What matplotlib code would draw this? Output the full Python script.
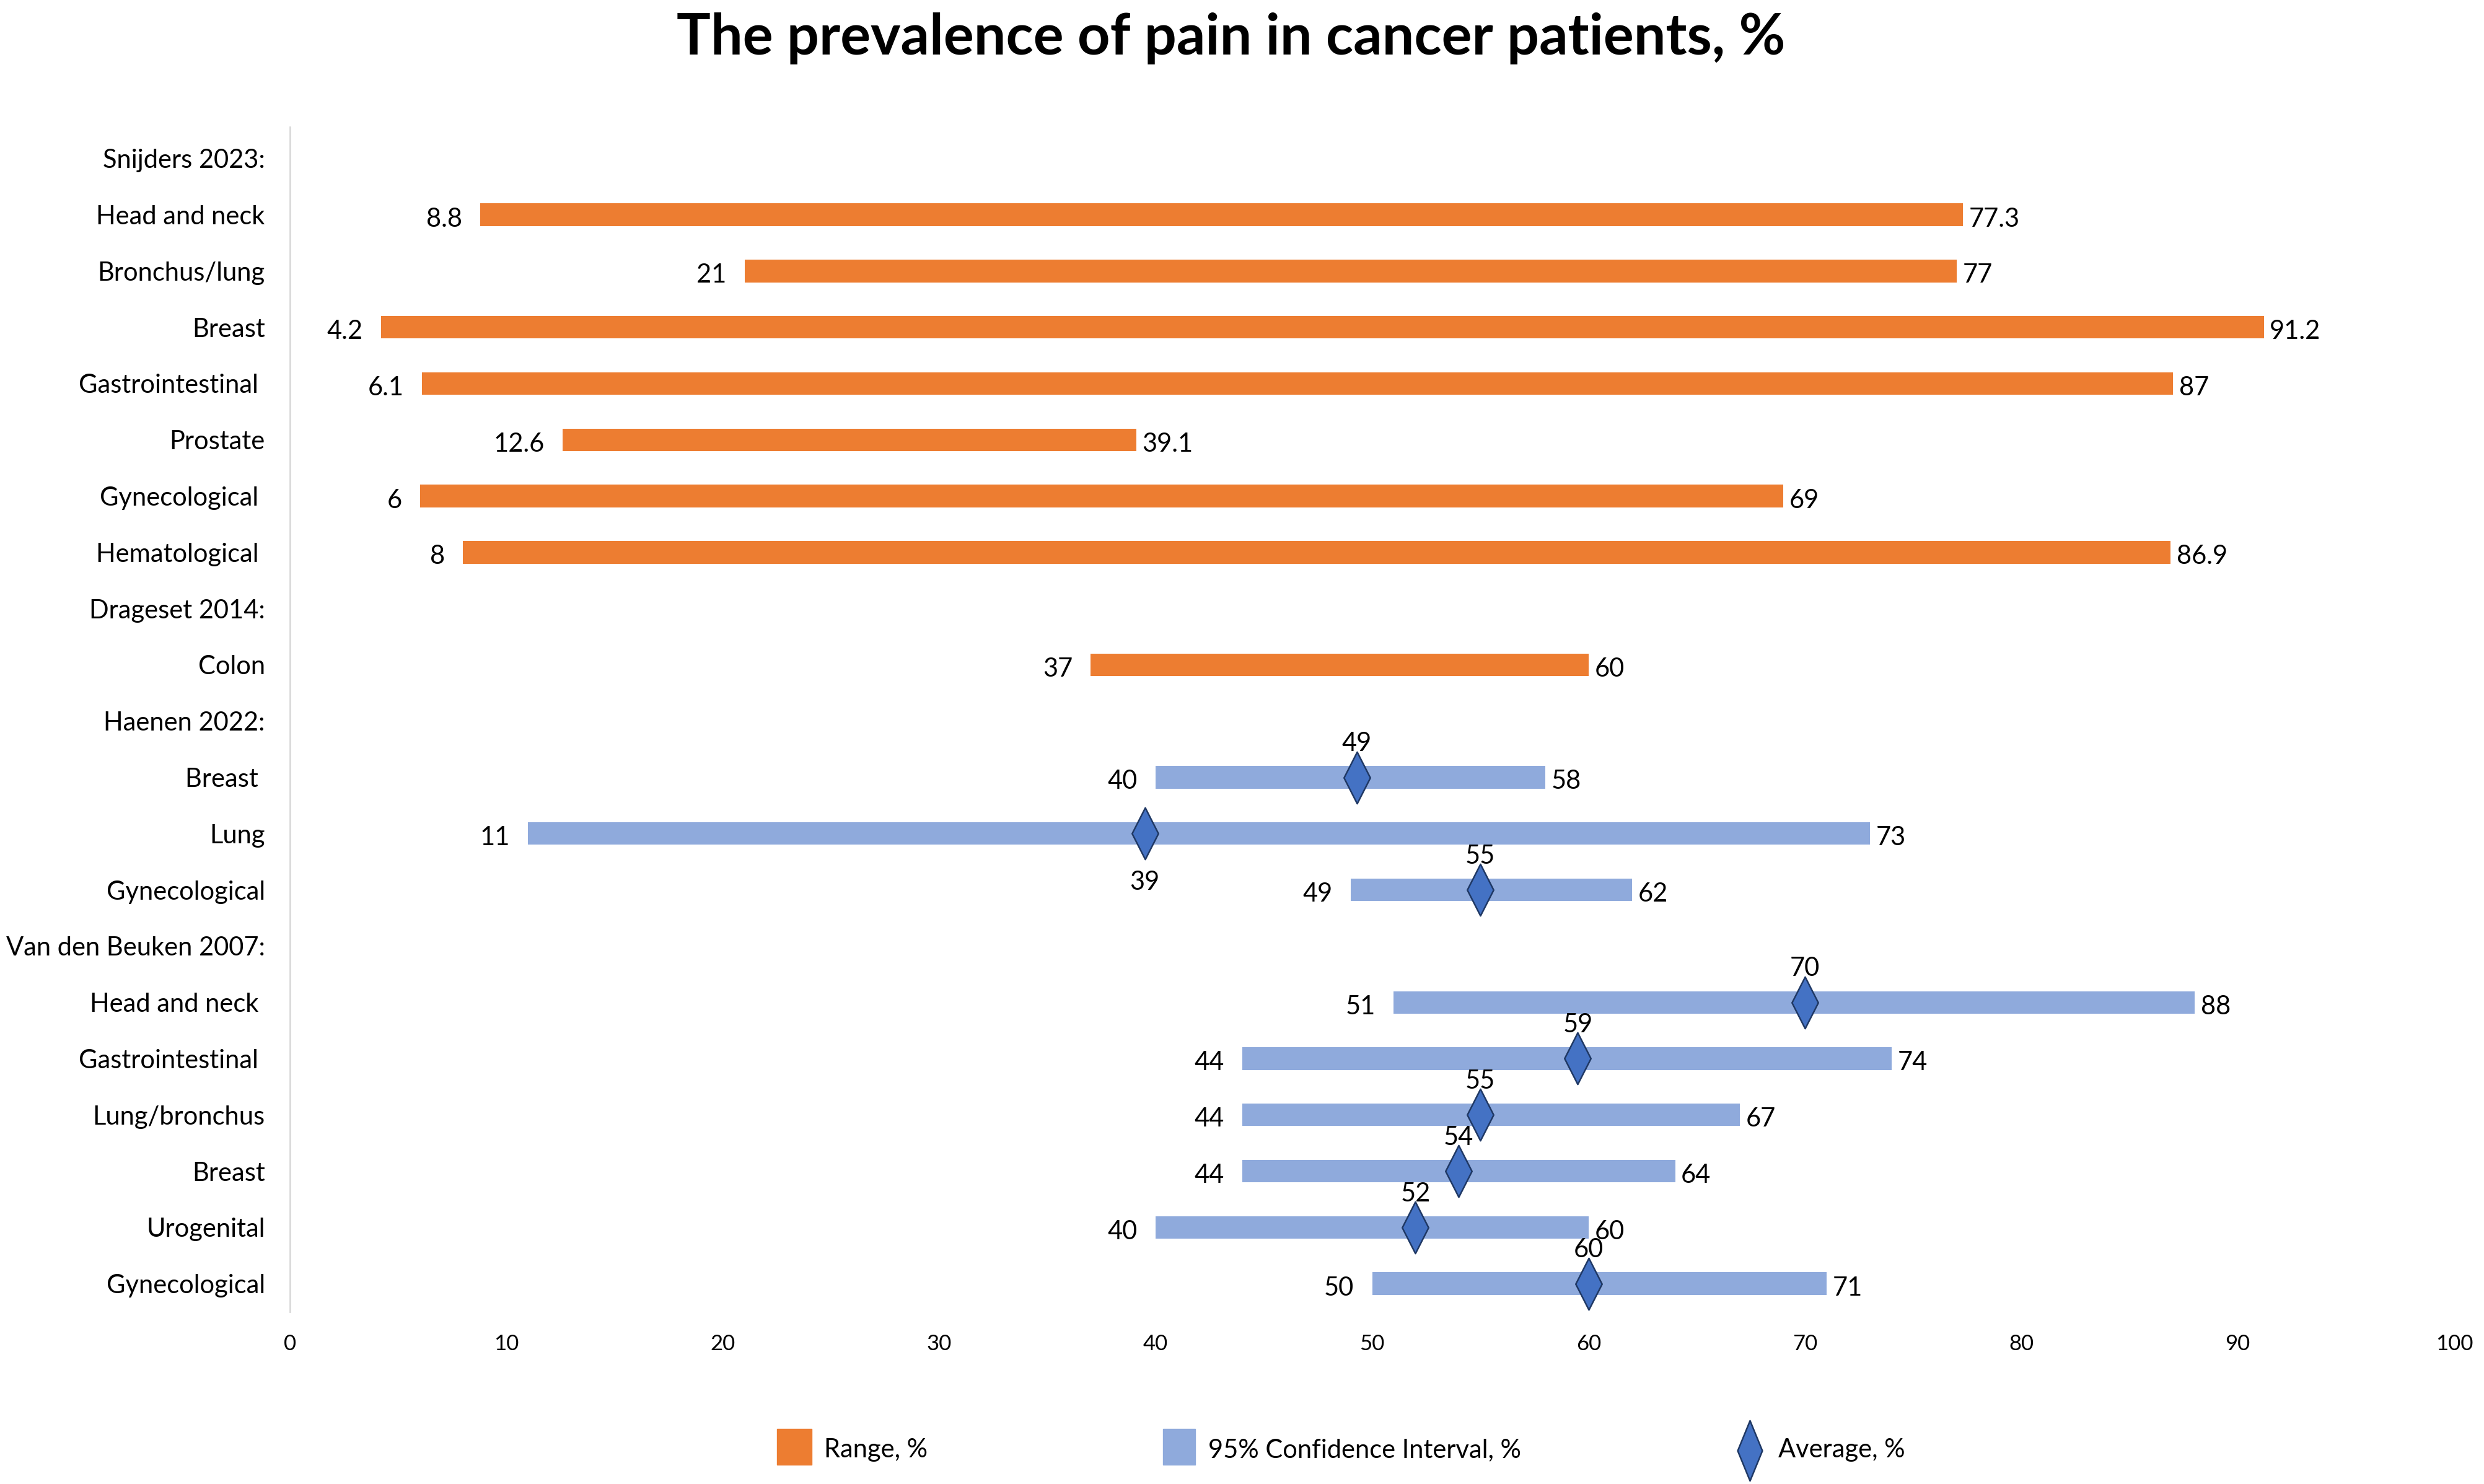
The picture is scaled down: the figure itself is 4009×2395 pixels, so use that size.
import numpy as np
import matplotlib
matplotlib.use("Agg")
import matplotlib.pyplot as plt
from matplotlib.path import Path
from matplotlib.patches import Rectangle
from matplotlib.lines import Line2D

plt.rcParams["font.family"] = ["Lato", "DejaVu Sans"]

# -------------------------
# Data
# -------------------------
nan = np.nan

row_labels = [
    "Snijders 2023:", "Head and neck", "Bronchus/lung", "Breast",
    "Gastrointestinal ", "Prostate", "Gynecological ", "Hematological ",
    "Drageset 2014:", "Colon",
    "Haenen 2022:", "Breast ", "Lung", "Gynecological",
    "Van den Beuken 2007:", "Head and neck ", "Gastrointestinal ",
    "Lung/bronchus", "Breast", "Urogenital", "Gynecological",
]

# Range, % (orange)
range_low = [nan, 8.8, 21, 4.2, 6.1, 12.6, 6, 8, nan, 37,
             nan, nan, nan, nan, nan, nan, nan, nan, nan, nan, nan]
range_high = [nan, 77.3, 77, 91.2, 87, 39.1, 69, 86.9, nan, 60,
              nan, nan, nan, nan, nan, nan, nan, nan, nan, nan, nan]

# 95% confidence interval, % (blue)
ci_low = [nan] * 11 + [40, 11, 49, nan, 51, 44, 44, 44, 40, 50]
ci_high = [nan] * 11 + [58, 73, 62, nan, 88, 74, 67, 64, 60, 71]

# Average, %
avg_value = [nan] * 11 + [49.3, 39.5, 55, nan, 70, 59.5, 55, 54, 52, 60]
avg_label = [""] * 11 + ["49", "39", "55", "", "70", "59", "55", "54", "52", "60"]

x_ticks = [0, 10, 20, 30, 40, 50, 60, 70, 80, 90, 100]

# -------------------------
# Styles
# -------------------------
orange = "#ED7D31"
blue = "#8FAADC"
dia_face = "#4472C4"
dia_edge = "#1F3864"


def diamond_path(half_w):
    return Path([(0, 1), (half_w, 0), (0, -1), (-half_w, 0), (0, 1)],
                [Path.MOVETO, Path.LINETO, Path.LINETO, Path.LINETO, Path.CLOSEPOLY])


diamond = diamond_path(0.51)
diamond_leg = diamond_path(0.41)

W, H = 4009, 2395
fig = plt.figure(figsize=(W / 100, H / 100), dpi=100)
ax = fig.add_axes([468 / W, 1 - 2117 / H, 3493 / W, (2117 - 205) / H])

y = np.arange(len(row_labels))
bar_h = 0.40
lab_fs = 30


def start_label(v, yy):
    ax.annotate(f"{v:g}", (v, yy), xytext=(-21, -5), textcoords="offset points",
                ha="right", va="center", fontsize=lab_fs)


def end_label(v, yy):
    ax.annotate(f"{v:g}", (v, yy), xytext=(7, -5), textcoords="offset points",
                ha="left", va="center", fontsize=lab_fs)


# Range bars
rl = np.array(range_low, dtype=float)
rh = np.array(range_high, dtype=float)
m = ~np.isnan(rl)
ax.barh(y[m], rh[m] - rl[m], left=rl[m], height=bar_h, color=orange)
for yy, lo, hi in zip(y[m], rl[m], rh[m]):
    start_label(lo, yy)
    end_label(hi, yy)

# Confidence interval bars
cl = np.array(ci_low, dtype=float)
ch = np.array(ci_high, dtype=float)
m = ~np.isnan(cl)
ax.barh(y[m], ch[m] - cl[m], left=cl[m], height=bar_h, color=blue)
for yy, lo, hi in zip(y[m], cl[m], ch[m]):
    start_label(lo, yy)
    end_label(hi, yy)

# Averages
av = np.array(avg_value, dtype=float)
m = ~np.isnan(av)
ax.plot(av[m], y[m], linestyle="none", marker=diamond, markersize=60,
        markerfacecolor=dia_face, markeredgecolor=dia_edge, markeredgewidth=1.8)
for yy, v, s in zip(y[m], av[m], np.array(avg_label)[m]):
    off = -57 if s == "39" else 39
    ax.annotate(s, (v, yy), xytext=(0, off), textcoords="offset points",
                ha="center", va="center", fontsize=lab_fs)

ax.set_xlim(0, 100)
ax.set_ylim(20.5, -0.56)
ax.set_xticks(x_ticks)
ax.set_yticks(y)
ax.set_yticklabels(row_labels, fontsize=30)
ax.tick_params(axis="x", length=0, labelsize=25, pad=26)
ax.tick_params(axis="y", length=0, pad=29)
for s in ["top", "right", "bottom"]:
    ax.spines[s].set_visible(False)
ax.spines["left"].set_color("#D9D9D9")
ax.spines["left"].set_linewidth(2)

fig.text(1987 / W, 1 - 62 / H, "The prevalence of pain in cancer patients, %",
         ha="center", va="center", fontsize=66, fontweight="bold")

# Legend
leg_y = 1 - 2340 / H
fig.patches.append(Rectangle((1254 / W, 1 - 2364 / H), 56 / W, 58 / H,
                             transform=fig.transFigure, color=orange))
fig.text(1330 / W, leg_y, "Range, %", ha="left", va="center", fontsize=30)
fig.patches.append(Rectangle((1877 / W, 1 - 2364 / H), 52 / W, 58 / H,
                             transform=fig.transFigure, color=blue))
fig.text(1950 / W, leg_y, "95% Confidence Interval, %", ha="left", va="center", fontsize=30)
fig.lines.append(Line2D([2824 / W], [1 - 2341 / H], transform=fig.transFigure,
                        marker=diamond_leg, markersize=70, linestyle="none",
                        markerfacecolor=dia_face, markeredgecolor=dia_edge,
                        markeredgewidth=1.8))
fig.text(2870 / W, leg_y, "Average, %", ha="left", va="center", fontsize=30)

fig.savefig("out.png", dpi=100, facecolor="white")
